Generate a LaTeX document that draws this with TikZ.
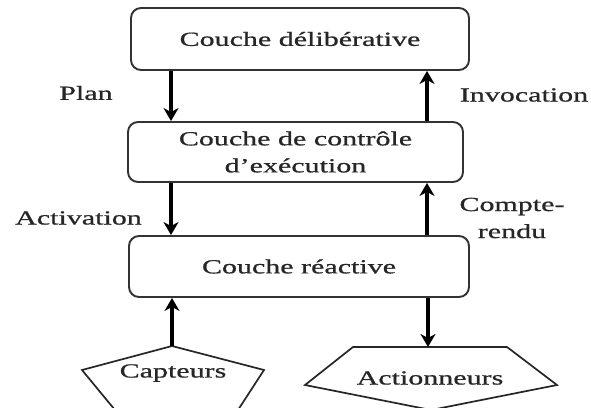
\documentclass[tikz,border=0pt]{standalone}
\usepackage{fontspec}
\setmainfont{Liberation Serif}[FakeStretch=1.5,FakeBold=0.8]
\usetikzlibrary{arrows.meta}
\begin{document}
\begin{tikzpicture}[x=1pt,y=-1pt,
  layer/.style={draw=black!80, line width=1.9pt, rounded corners=10pt,
    inner sep=0pt, text=black!85, font=\fontsize{20}{27}\selectfont, align=center},
  arr/.style={draw=black, line width=3.2pt, -{Stealth[length=13pt,width=15pt,inset=4pt]}},
  lbl/.style={text=black!85, font=\fontsize{20}{27}\selectfont, align=center, inner sep=0pt},
  penta/.style={draw=black!85, line width=1.7pt, line join=miter}]
\useasboundingbox (0,0) rectangle (591,407);

% three layers
\node[layer, minimum width=338pt, minimum height=62pt] (b1) at (300,39) {Couche délibérative};
\node[layer, minimum width=335pt, minimum height=60pt] (b2) at (295.5,152) {Couche de contrôle\\d'exécution};
\node[layer, minimum width=340pt, minimum height=61pt] (b3) at (299,266.5) {Couche réactive};

% arrow columns
\coordinate (colL) at (171,0);
\coordinate (colR) at (427,0);

% sensors and actuators
\coordinate (capTop) at (172,346);
\draw[penta] (capTop) -- (264,370) -- (238,410) -- (115,410) -- (82,370) -- cycle;
\node[lbl] (cap) at (173,373) {Capteurs};

\coordinate (actTop) at (428,347);
\draw[penta] (353,347) -- (507,347) -- (557,385) -- (431,410) -- (305,385) -- cycle;
\node[lbl] (act) at (430,378) {Actionneurs};

% connectors
\draw[arr] (b1.south -| colL) -- (b2.north -| colL);
\draw[arr] (b2.north -| colR) -- (b1.south -| colR);
\draw[arr] (b2.south -| colL) -- (b3.north -| colL);
\draw[arr] (b3.north -| colR) -- (b2.south -| colR);
\draw[arr] (capTop) -- (b3.south -| capTop);
\draw[arr] (b3.south -| actTop) -- (actTop);

% labels
\node[lbl] (plan) at (86,93) {Plan};
\node[lbl] (invoc) at (524,95) {Invocation};
\node[lbl] (activ) at (78.5,218) {Activation};
\node[lbl] (cr) at (512,218) {Compte-\\rendu};
\end{tikzpicture}
\end{document}
